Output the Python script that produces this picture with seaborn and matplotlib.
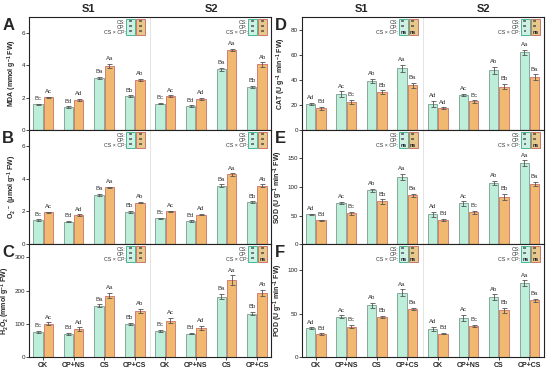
import numpy as np
import pandas as pd
import matplotlib
matplotlib.use("Agg")
import matplotlib.pyplot as plt
import matplotlib.transforms as mtransforms
from matplotlib.patches import Rectangle
import seaborn as sns

# ---------------- data ----------------
treatments = ["CK", "CP+NS", "CS", "CP+CS"]
stresses = ["S1", "S2"]
series = ["G1", "G2"]

# values ordered S1: CK, CP+NS, CS, CP+CS, then S2: CK, CP+NS, CS, CP+CS
mda_g1 = [1.58, 1.43, 3.22, 2.10, 1.63, 1.48, 3.76, 2.68]
mda_g2 = [2.02, 1.88, 3.99, 3.09, 2.10, 1.94, 4.97, 4.06]
mda_e1 = [0.06, 0.04, 0.08, 0.05, 0.05, 0.04, 0.09, 0.06]
mda_e2 = [0.05, 0.06, 0.12, 0.08, 0.06, 0.07, 0.06, 0.13]

o2_g1 = [1.48, 1.38, 3.03, 1.98, 1.57, 1.42, 3.59, 2.58]
o2_g2 = [1.94, 1.79, 3.48, 2.54, 2.00, 1.81, 4.27, 3.59]
o2_e1 = [0.04, 0.04, 0.06, 0.05, 0.04, 0.04, 0.08, 0.05]
o2_e2 = [0.05, 0.05, 0.05, 0.05, 0.04, 0.05, 0.08, 0.07]

h2o2_g1 = [76, 71, 155, 101, 79, 71, 182, 131]
h2o2_g2 = [101, 85, 185, 140, 110, 89, 232, 194]
h2o2_e1 = [4, 3, 4, 3, 3, 2, 8, 5]
h2o2_e2 = [4, 5, 8, 6, 8, 6, 14, 9]

cat_g1 = [20.9, 28.3, 39.3, 49.0, 20.9, 27.8, 47.5, 62.0]
cat_g2 = [17.2, 22.5, 30.1, 35.6, 17.5, 22.8, 34.6, 42.2]
cat_e1 = [0.8, 2.4, 1.5, 3.0, 2.5, 1.0, 3.0, 2.0]
cat_e2 = [1.2, 1.5, 1.6, 2.2, 0.8, 1.0, 2.2, 2.2]

sod_g1 = [52.4, 71.8, 94.0, 117.6, 51.8, 71.2, 107.0, 141.8]
sod_g2 = [41.8, 54.0, 74.7, 85.3, 42.4, 55.3, 83.0, 105.3]
sod_e1 = [1, 2, 3, 6, 5, 4, 4, 5]
sod_e2 = [1, 3, 4, 3, 1.5, 3, 5, 4]

pod_g1 = [33.7, 46.6, 59.5, 73.9, 32.6, 45.5, 69.3, 85.2]
pod_g2 = [26.9, 35.2, 46.2, 55.7, 27.3, 36.0, 53.8, 65.2]
pod_e1 = [0.7, 1.5, 3.0, 4.0, 2.5, 3.5, 3.0, 3.0]
pod_e2 = [0.8, 2.0, 1.5, 1.2, 0.8, 1.3, 3.0, 1.8]

let_abc_g1 = ["Bc", "Bd", "Ba", "Bb", "Bc", "Bd", "Ba", "Bb"]
let_abc_g2 = ["Ac", "Ad", "Aa", "Ab", "Ac", "Ad", "Aa", "Ab"]
let_d_g1 = ["Ad", "Ac", "Ab", "Aa", "Ad", "Ac", "Ab", "Aa"]
let_d_g2 = ["Bd", "Bc", "Bb", "Ba", "Ad", "Bc", "Bb", "Ba"]
let_ef_g1 = ["Ad", "Ac", "Ab", "Aa", "Ad", "Ac", "Ab", "Aa"]
let_ef_g2 = ["Bd", "Bc", "Bb", "Ba", "Bd", "Bc", "Bb", "Ba"]

sig_rows = ["CS:", "CP:", "CS \u00d7 CP:"]
sig_all = ["**", "**", "**"]
sig_ns = ["**", "**", "ns"]
sig_one = ["**", "**", "*"]

panels = [
    dict(tag="A", ylabel="MDA (mmol g$^{-1}$ FW)", g1=mda_g1, g2=mda_g2, e1=mda_e1, e2=mda_e2,
         l1=let_abc_g1, l2=let_abc_g2, ylim=7, yticks=[0, 2, 4, 6],
         sig=[(sig_all, sig_all), (sig_all, sig_all)]),
    dict(tag="B", ylabel="O$_2$$^{\\cdot-}$ (\u03bcmol g$^{-1}$ FW)", g1=o2_g1, g2=o2_g2, e1=o2_e1, e2=o2_e2,
         l1=let_abc_g1, l2=let_abc_g2, ylim=7, yticks=[0, 2, 4, 6],
         sig=[(sig_all, sig_all), (sig_all, sig_all)]),
    dict(tag="C", ylabel="H$_2$O$_2$ (mmol g$^{-1}$ FW)", g1=h2o2_g1, g2=h2o2_g2, e1=h2o2_e1, e2=h2o2_e2,
         l1=let_abc_g1, l2=let_abc_g2, ylim=340, yticks=[0, 100, 200, 300],
         sig=[(sig_all, sig_all), (sig_all, sig_ns)]),
    dict(tag="D", ylabel="CAT (U g$^{-1}$ min$^{-1}$ FW)", g1=cat_g1, g2=cat_g2, e1=cat_e1, e2=cat_e2,
         l1=let_d_g1, l2=let_d_g2, ylim=90, yticks=[0, 20, 40, 60, 80],
         sig=[(sig_ns, sig_ns), (sig_one, sig_ns)]),
    dict(tag="E", ylabel="SOD (U g$^{-1}$ min$^{-1}$ FW)", g1=sod_g1, g2=sod_g2, e1=sod_e1, e2=sod_e2,
         l1=let_ef_g1, l2=let_ef_g2, ylim=200, yticks=[0, 50, 100, 150],
         sig=[(sig_ns, sig_ns), (sig_one, sig_ns)]),
    dict(tag="F", ylabel="POD (U g$^{-1}$ min$^{-1}$ FW)", g1=pod_g1, g2=pod_g2, e1=pod_e1, e2=pod_e2,
         l1=let_ef_g1, l2=let_ef_g2, ylim=130, yticks=[0, 50, 100],
         sig=[(sig_ns, sig_ns), (sig_ns, sig_ns)]),
]

# ---------------- style ----------------
sns.set_theme(style="ticks")
plt.rcParams["font.family"] = ["Liberation Sans", "DejaVu Sans"]
plt.rcParams["mathtext.fontset"] = "custom"
plt.rcParams["mathtext.rm"] = "Liberation Sans:bold"
plt.rcParams["mathtext.it"] = "Liberation Sans:bold:italic"
plt.rcParams["mathtext.bf"] = "Liberation Sans:bold"

fill1, edge1 = "#bdeed9", "#8aa89a"
fill2, edge2 = "#f1b970", "#d27f72"
box1_fill, box1_edge = "#cdf0e2", "#2fae80"
box2_fill, box2_edge = "#e6c98a", "#c8645e"

keys = [f"{s}|{t}" for s in stresses for t in treatments]

fig = plt.figure(figsize=(5.5, 3.72), dpi=100)
W, H = 550.0, 372.0
col_x = [(29.3, 271.0), (302.0, 543.5)]
row_y = [(17.0, 130.0), (130.0, 244.0), (244.0, 357.3)]

for i, p in enumerate(panels):
    col, row = divmod(i, 3)
    x0, x1 = col_x[col]
    y0, y1 = row_y[row]
    ax = fig.add_axes([x0 / W, 1 - y1 / H, (x1 - x0) / W, (y1 - y0) / H])

    df = pd.DataFrame({
        "key": keys * 2,
        "series": [series[0]] * 8 + [series[1]] * 8,
        "value": list(p["g1"]) + list(p["g2"]),
    })
    sns.barplot(data=df, x="key", y="value", hue="series", order=keys, hue_order=series,
                palette=[fill1, fill2], width=0.68, gap=0.1, errorbar=None,
                legend=False, ax=ax, saturation=1)

    errs = [p["e1"], p["e2"]]
    lets = [p["l1"], p["l2"]]
    edges = [edge1, edge2]
    bar_conts = list(ax.containers)
    for ci, cont in enumerate(bar_conts):
        for bi, bar in enumerate(cont):
            bar.set_edgecolor(edges[ci])
            bar.set_linewidth(0.7)
            xc = bar.get_x() + bar.get_width() / 2
            h = bar.get_height()
            e = errs[ci][bi]
            ax.errorbar(xc, h, yerr=e, fmt="none", ecolor="#555555", elinewidth=0.6,
                        capsize=1.8, capthick=0.6, zorder=5)
            ax.annotate(lets[ci][bi], (xc, h + e), xytext=(0, 1.8), textcoords="offset points",
                        ha="center", va="bottom", fontsize=4.3, color="#333333")

    ax.set_xlim(-0.45, 7.46)
    ax.set_ylim(0, p["ylim"])
    ax.set_yticks(p["yticks"])
    ax.axvline(3.5, color="#d9d9d9", lw=0.5, zorder=0)
    ax.set_xlabel("")
    ax.set_ylabel(p["ylabel"], fontsize=5, fontweight="bold", labelpad=2)
    ax.tick_params(axis="y", labelsize=4.5, length=2, width=0.6, pad=1)
    if row == 2:
        ax.set_xticks(range(8))
        ax.set_xticklabels(treatments * 2, fontsize=5, fontweight="bold")
        ax.tick_params(axis="x", length=2, width=0.6, pad=1.5)
    else:
        ax.set_xticks(range(8))
        ax.set_xticklabels([])
        ax.tick_params(axis="x", length=0)
    for sp in ax.spines.values():
        sp.set_linewidth(0.8)
        sp.set_color("#222222")

    # significance boxes
    trans = mtransforms.blended_transform_factory(ax.transData, ax.transAxes)
    for si, (sg1, sg2) in enumerate(p["sig"]):
        off = 4.0 * si
        bx = [(2.72 + off, 3.01 + off), (3.04 + off, 3.34 + off)]
        for bj, (bxa, bxb) in enumerate(bx):
            ax.add_patch(Rectangle((bxa, 0.84), bxb - bxa, 0.145, transform=trans,
                                   facecolor=[box1_fill, box2_fill][bj],
                                   edgecolor=[box1_edge, box2_edge][bj], lw=0.6, zorder=6))
            sg = [sg1, sg2][bj]
            for ri in range(3):
                ax.text((bxa + bxb) / 2, 0.955 - ri * 0.045, sg[ri], transform=trans,
                        ha="center", va="center", fontsize=3.8, color="#1a1a2e",
                        fontweight="bold", zorder=7)
        for ri, lab in enumerate(sig_rows):
            ax.text(2.70 + off, 0.955 - ri * 0.045, lab, transform=trans, ha="right",
                    va="center", fontsize=3.8, color="#333333", zorder=7)

    # panel tag
    fig.text((x0 - 27) / W, 1 - (y0 + 1) / H, p["tag"], fontsize=12, fontweight="bold",
             ha="left", va="top")
    if row == 0:
        for si, s in enumerate(stresses):
            ax.text(1.5 + 4 * si, 1.03, s, transform=trans, ha="center", va="bottom",
                    fontsize=8, fontweight="bold")

fig.savefig("out.png", dpi=100)
